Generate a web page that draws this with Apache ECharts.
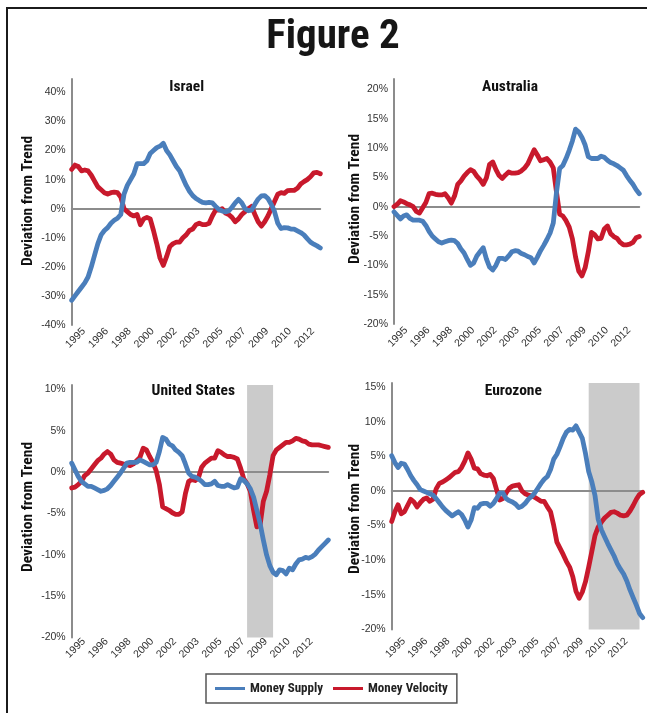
<!DOCTYPE html>
<html>
<head>
<meta charset="utf-8">
<script src="https://cdn.jsdelivr.net/npm/echarts@6/dist/echarts.min.js"></script>
<style>
  html, body { margin: 0; padding: 0; background: #fff; overflow: hidden; }
  #chart { position: absolute; left: 0; top: 0; width: 647px; height: 713px; }
  #frame { position: absolute; left: 6px; top: 7px; right: -10px; bottom: -10px;
           border-top: 2.5px solid #1b1b1b; border-left: 2.5px solid #1b1b1b; pointer-events: none; }
</style>
</head>
<body>
<div id="chart"></div>
<div id="frame"></div>
<script>
// Quarterly categories, 1995 Q1 onward
const quarters = [];
for (let y = 1995; y <= 2014; y++) for (let q = 1; q <= 4; q++) quarters.push(y + ' Q' + q);

// Deviation from trend, percent
const israelSupply = [
  -31.5, -30, -28.5, -27, -25.5, -23.5, -20, -16, -12, -9,
  -7.5, -6.5, -5, -4, -3.3, -2, 5, 8, 10, 12,
  15.5, 15.5, 15.5, 16.5, 19, 20, 21, 21.5, 22.5, 20,
  18.5, 16.5, 14.5, 13, 10.5, 8, 6, 4.5, 3.5, 2.8,
  2.2, 2, 2.2, 2, 0.8, -0.3, -0.8, -1.1, -0.8, 0.5,
  2, 3.2, 2, 0, -0.7, -0.5, 1.5, 3.3, 4.4, 4.5,
  3.5, 1.5, -1, -5, -6.8, -6.5, -6.6, -7, -7, -7.6,
  -8.2, -9, -10.3, -11.5, -12.2, -12.8, -13.5
];
const israelVelocity = [
  13.5, 15, 14.5, 13, 13.3, 13, 11.5, 9.5, 7.5, 6.5,
  5.5, 5, 5.5, 5.7, 5.5, 4, 0, -1, -2, -2.5,
  -2, -5.5, -3.5, -3, -3.5, -7.5, -12, -17, -19.5, -16.5,
  -13, -12, -11.5, -11.5, -10, -9, -7.5, -7, -5.5, -5,
  -5.5, -5.5, -5, -2.5, -0.5, -0.5, 0, -1.5, -2, -3,
  -4.5, -3.5, -2, -1, 0, 0.8, -2, -4.5, -6, -4.5,
  -2.5, 0, 2.5, 5, 5.5, 5.3, 6.2, 6.3, 6.3, 7,
  8.5, 9.3, 10, 11, 12.3, 12.5, 12
];
const australiaSupply = [
  -0.9, -1.5, -2.1, -1.6, -1.4, -2.0, -2.3, -2.3, -2.3, -2.5,
  -3.2, -4.2, -5.0, -5.5, -6.0, -6.2, -6.0, -5.8, -5.7, -5.8,
  -6.3, -7.2, -7.9, -9.0, -10.0, -9.6, -8.4, -7.7, -7.0, -8.9,
  -10.3, -10.8, -10.0, -8.8, -8.8, -9.0, -8.4, -7.7, -7.5, -7.6,
  -8.0, -8.2, -8.5, -8.7, -9.6, -8.6, -7.5, -6.6, -5.6, -4.5,
  -2.8, 2.4, 6.5, 7.0, 8.2, 9.6, 11.2, 13.2, 12.7, 11.8,
  10.5, 8.5, 8.2, 8.2, 8.2, 8.6, 8.4, 7.9, 7.5, 7.3,
  7.0, 6.6, 6.2, 5.3, 4.5, 3.8, 2.9, 2.2
];
const australiaVelocity = [
  0, 0.4, 1.0, 0.8, 0.5, 0.3, 0.0, -0.8, -1.1, -0.2,
  0.7, 2.2, 2.3, 2.1, 2.0, 2.0, 2.2, 1.5, 0.6, 1.8,
  3.8, 4.4, 5.2, 5.8, 6.3, 6.0, 5.2, 4.6, 3.8, 4.9,
  7.2, 7.6, 6.3, 5.3, 4.8, 5.4, 5.9, 5.7, 5.7, 5.8,
  6.1, 6.6, 7.3, 8.5, 9.7, 8.8, 7.8, 8.0, 8.2, 7.6,
  6.6, 2.5, -1.3, -1.6, -2.4, -3.5, -5.5, -8.6, -11, -11.8,
  -10.4, -7.7, -4.4, -4.8, -5.5, -5.4, -3.8, -3.3, -4.6, -5.1,
  -5.4, -6.1, -6.5, -6.5, -6.4, -6.1, -5.3, -5.1
];
const usSupply = [
  1.1, 0.3, -0.5, -1.1, -1.4, -1.7, -1.7, -1.9, -2.1, -2.3,
  -2.2, -2.0, -1.6, -1.1, -0.6, -0.1, 0.5, 1.1, 1.2, 1.2,
  1.2, 1.5, 1.3, 1.1, 0.9, 0.9, 1.2, 2.5, 4.2, 4.0,
  3.4, 3.2, 2.7, 2.4, 2.0, 1.0, -0.1, -0.5, -0.6, -0.8,
  -1.1, -1.5, -1.5, -1.4, -1.1, -1.6, -1.7, -1.7, -1.5, -1.7,
  -1.9, -1.8, -0.8, -1.0, -1.4, -2.0, -3.0, -4.6, -6.2, -8.2,
  -10.0, -11.3, -12.1, -12.4, -11.8, -11.9, -12.3, -11.6, -11.8, -11.1,
  -10.6, -10.5, -10.3, -10.4, -10.2, -9.9, -9.4, -9.0, -8.6, -8.2
];
const usVelocity = [
  -1.9, -1.8, -1.5, -1.1, -0.4, -0.1, 0.4, 0.9, 1.4, 1.7,
  2.2, 2.5, 2.2, 1.5, 1.2, 1.1, 1.0, 0.9, 0.8, 1.0,
  1.4, 1.8, 2.9, 2.7, 1.9, 1.2, 0.2, -1.5, -4.2, -4.4,
  -4.6, -4.9, -5.1, -5.1, -4.8, -2.6, -1.1, -0.9, -1.0, -0.7,
  0.6, 1.1, 1.4, 1.7, 1.7, 2.6, 2.4, 2.1, 1.9, 1.9,
  1.8, 1.6, 0.5, -0.8, -1.4, -2.3, -4.6, -6.6, -6.4, -3.5,
  -2.3, -0.3, 2.0, 2.7, 3.0, 3.3, 3.6, 3.6, 3.8, 4.1,
  4.0, 3.8, 3.7, 3.4, 3.3, 3.3, 3.3, 3.2, 3.1, 3.0
];
const euroSupply = [
  5.1, 4.1, 3.4, 4.0, 3.9, 3.1, 2.2, 1.5, 0.9, 0.2,
  0, -0.2, -0.4, -0.6, -1.1, -1.7, -2.3, -2.8, -3.2, -3.6,
  -3.3, -3.0, -3.4, -4.2, -5.2, -4.2, -2.4, -2.5, -1.9, -1.8,
  -1.8, -2.2, -1.8, -1.1, -0.3, -0.3, -1.1, -1.4, -1.6, -1.9,
  -2.4, -2.2, -1.8, -1.2, -0.8, -0.3, 0.4, 1.1, 1.7, 2.1,
  3.1, 4.6, 5.3, 6.4, 7.6, 8.5, 8.9, 8.8, 9.4, 8.5,
  7.6, 5.4, 2.8, 1.3, -0.7, -4.1, -5.6, -6.6, -7.6, -8.5,
  -9.4, -10.5, -11.3, -12.0, -13.0, -14.3, -15.4, -16.5, -17.7, -18.3
];
const euroVelocity = [
  -4.4, -3.0, -2.0, -3.3, -3.0, -2.1, -1.2, -1.6, -2.3, -1.7,
  -1.2, -1.0, -1.5, -1.2, 0.3, 1.1, 1.3, 1.6, 1.9, 2.3,
  2.7, 2.8, 3.4, 4.3, 5.5, 4.6, 3.3, 3.2, 2.5, 2.3,
  2.2, 2.4, 1.8, 0.2, -1.3, -1.1, -0.3, 0.4, 0.7, 0.8,
  0.9, 0, -0.4, -0.6, -0.7, -0.9, -1.2, -1.5, -1.5, -2.3,
  -3.0, -5.0, -7.4, -8.3, -9.2, -10.2, -11.0, -12.4, -14.5, -15.5,
  -14.6, -13.1, -11.0, -8.7, -6.4, -5.2, -4.5, -3.9, -3.5, -3.1,
  -3.0, -3.2, -3.5, -3.6, -3.5, -2.9, -2.1, -1.2, -0.5, -0.2
];

// Shaded periods (first and last quarter)
const usShade = ['2008 Q3', '2010 Q3'];
const euroShade = ['2010 Q3', '2014 Q3'];

const seriesNames = ['Money Supply', 'Money Velocity'];
const panelTitles = ['Israel', 'Australia', 'United States', 'Eurozone'];
const axisTitle = 'Deviation from Trend';
const figureTitle = 'Figure 2';
const LABEL_EVERY = 7; // one year label every seven quarters

const BLUE = '#4a7ebb';
const RED = '#c8192c';
const AXIS_GRAY = '#8c8c8c';
const SANS = "'Liberation Sans', Arial, Helvetica, sans-serif";

// Pick a condensed bold face if one is installed; otherwise squeeze a regular one.
function fontAvailable(family) {
  const ctx = document.createElement('canvas').getContext('2d');
  const s = 'Deviation from Trend 2012 Wmi';
  return ['monospace', 'serif'].some(base => {
    ctx.font = 'bold 40px ' + base;
    const w0 = ctx.measureText(s).width;
    ctx.font = "bold 40px '" + family + "', " + base;
    return Math.abs(ctx.measureText(s).width - w0) > 0.5;
  });
}
const condensed = ['Liberation Sans Narrow', 'Roboto Condensed', 'Arial Narrow',
                   'Noto Sans Condensed', 'Open Sans Condensed', 'DejaVu Sans Condensed'].find(fontAvailable);
const NARROW = condensed ? "'" + condensed + "', " + SANS : SANS;
function squeezeFor(fontSize, text, width) {
  const ctx = document.createElement('canvas').getContext('2d');
  ctx.font = 'bold ' + fontSize + 'px ' + NARROW;
  return Math.min(1, width / ctx.measureText(text).width);
}
const SQUEEZE = squeezeFor(15.5, axisTitle, 132);

const panels = [
  { title: panelTitles[0], supply: israelSupply, velocity: israelVelocity,
    grid: { left: 71.7, top: 79, width: 248.6, height: 246 },
    min: -40, max: 44.6, step: 10, namePos: [28.3, 201], titlePos: [186.7, 86.7], labelMargin: 9, shade: null },
  { title: panelTitles[1], supply: australiaSupply, velocity: australiaVelocity,
    grid: { left: 394, top: 79, width: 245.3, height: 245 },
    min: -20, max: 21.75, step: 5, namePos: [355, 199], titlePos: [510, 86.7], labelMargin: 9, shade: null },
  { title: panelTitles[2], supply: usSupply, velocity: usVelocity,
    grid: { left: 71.7, top: 385, width: 256.6, height: 252.6 },
    min: -20, max: 10.55, step: 5, namePos: [28.3, 507], titlePos: [193.3, 391], labelMargin: 6.5, shade: usShade },
  { title: panelTitles[3], supply: euroSupply, velocity: euroVelocity,
    grid: { left: 391.7, top: 383, width: 251, height: 246.4 },
    min: -20, max: 15.6, step: 5, namePos: [355, 509], titlePos: [513.3, 391], labelMargin: 14.5, shade: euroShade }
];

const grids = [], xAxes = [], yAxes = [], series = [], graphics = [];

function heading(text, x, y, size, fill, rotation) {
  return {
    type: 'text', x: x, y: y, rotation: rotation || 0, scaleX: SQUEEZE, silent: true,
    style: { text: text, fontSize: size, fontWeight: 'bold', fontFamily: NARROW, fill: fill,
             align: 'center', verticalAlign: 'middle', textAlign: 'center', textVerticalAlign: 'middle' }
  };
}

graphics.push(heading(figureTitle, 333, 38, 41, '#161616'));

panels.forEach((p, i) => {
  const n = Math.max(p.supply.length, p.velocity.length);
  const cats = quarters.slice(0, n);
  grids.push(Object.assign({ containLabel: false }, p.grid));

  // labelled category axis along the bottom; year labels only on the seven-quarter step
  const labelAxis = {
    gridIndex: i, type: 'category', data: cats, boundaryGap: false, position: 'bottom',
    axisLine: { show: false, onZero: false }, axisTick: { show: false }, splitLine: { show: false },
    axisLabel: {
      interval: LABEL_EVERY - 1, rotate: 45, align: 'center', verticalAlign: 'top',
      margin: p.labelMargin,
      fontSize: 10.5, color: '#333', fontFamily: SANS,
      formatter: v => v.slice(0, 4)
    }
  };
  // keep the renderer from adding a label for the final quarter
  if ((n - 1) % LABEL_EVERY !== LABEL_EVERY - 1) labelAxis.axisLabel.showMaxLabel = false;
  xAxes.push(labelAxis);

  // zero line
  xAxes.push({
    gridIndex: i, type: 'category', data: cats, boundaryGap: false, z: 2,
    axisLine: { show: true, onZero: true, lineStyle: { color: AXIS_GRAY, width: 1.8 } },
    axisTick: { show: false }, axisLabel: { show: false }, splitLine: { show: false }
  });

  yAxes.push({
    gridIndex: i, type: 'value', min: p.min, max: p.max, interval: p.step,
    axisLine: { show: true, lineStyle: { color: AXIS_GRAY, width: 2 } },
    axisTick: { show: false }, splitLine: { show: false },
    axisLabel: { formatter: '{value}%', showMaxLabel: false, margin: 6,
                 fontSize: 10.5, color: '#333', fontFamily: SANS }
  });

  if (p.shade) {
    series.push({
      type: 'line', xAxisIndex: 2 * i, yAxisIndex: i, data: [], z: 1, silent: true,
      markArea: { silent: true, itemStyle: { color: '#cbcbcb' },
                  data: [[{ xAxis: p.shade[0] }, { xAxis: p.shade[1] }]] }
    });
  }
  series.push({
    name: seriesNames[1], type: 'line', xAxisIndex: 2 * i, yAxisIndex: i, data: p.velocity,
    color: RED, symbol: 'none', z: 3, silent: true,
    lineStyle: { color: RED, width: 4.8, cap: 'round', join: 'round' }
  });
  series.push({
    name: seriesNames[0], type: 'line', xAxisIndex: 2 * i, yAxisIndex: i, data: p.supply,
    color: BLUE, symbol: 'none', z: 3, silent: true,
    lineStyle: { color: BLUE, width: 4.8, cap: 'round', join: 'round' }
  });

  graphics.push(heading(p.title, p.titlePos[0], p.titlePos[1], 15.5, '#111'));
  graphics.push(heading(axisTitle, p.namePos[0], p.namePos[1], 15.5, '#111', Math.PI / 2));
});

const legendFont = SQUEEZE < 0.97 ? 11.5 : 13;
const chart = echarts.init(document.getElementById('chart'), null, { renderer: 'canvas' });
chart.setOption({
  animation: false,
  backgroundColor: '#fff',
  grid: grids,
  xAxis: xAxes,
  yAxis: yAxes,
  series: series,
  graphic: graphics,
  legend: {
    data: seriesNames, left: 206, top: 674, orient: 'horizontal',
    padding: [8, 9], itemGap: 10, itemWidth: SQUEEZE < 0.97 ? 26 : 30, itemHeight: 3, icon: 'rect',
    borderColor: '#555', borderWidth: 1.5, selectedMode: false,
    textStyle: { fontFamily: NARROW, fontWeight: 'bold', fontSize: legendFont, color: '#222' }
  }
});
</script>
</body>
</html>
